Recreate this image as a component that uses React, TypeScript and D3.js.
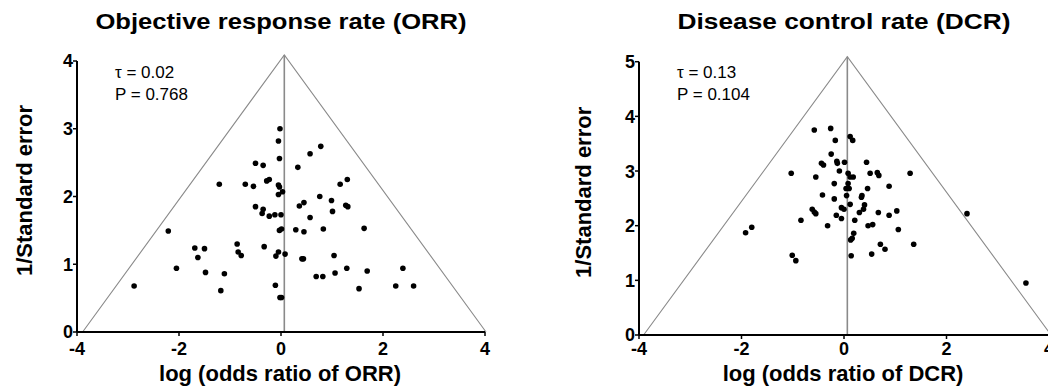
import { useEffect } from 'react';
import * as d3 from 'd3';

// ORR funnel: log odds ratio vs 1/SE
const orrLogOR = [
    -0.02, -0.05, -0.03, 0.78, 0.57, 0.33, -0.5, -0.35, -1.21, -0.7,
    -0.54, -0.28, -0.23, -0.05, -0.03, -0.05, 0.03, 1.3, 1.16, 0.76,
    0.99, 0.45, 0.36, 1.27, 1.31, 1.01, 0.57, -0.5, -0.35, -0.37,
    -0.23, -0.12, 0.0, 1.63, 0.83, 0.29, 0.45, -0.03, 0.01, -2.21,
    -0.86, -0.33, -1.69, -1.5, -0.84, -0.78, -1.63, -0.05, -0.1, 0.08,
    0.41, 0.44, 1.04, -2.05, -1.48, -1.11, 1.29, 1.69, 2.39, 1.06,
    0.69, 0.82, -2.88, -0.11, 2.25, 2.6, 1.53, -1.18, -0.02, 0.01,
];
const orrInvSE = [
    3.0, 2.82, 2.56, 2.74, 2.63, 2.43, 2.49, 2.46, 2.18, 2.18,
    2.15, 2.23, 2.25, 2.17, 2.14, 2.03, 2.07, 2.25, 2.18, 2.0,
    1.94, 1.91, 1.86, 1.87, 1.85, 1.78, 1.69, 1.85, 1.81, 1.75,
    1.71, 1.73, 1.73, 1.53, 1.52, 1.51, 1.48, 1.5, 1.52, 1.49,
    1.3, 1.26, 1.24, 1.23, 1.18, 1.13, 1.1, 1.18, 1.12, 1.15,
    1.08, 1.08, 1.13, 0.94, 0.88, 0.86, 0.94, 0.9, 0.94, 0.87,
    0.82, 0.82, 0.68, 0.69, 0.68, 0.68, 0.64, 0.61, 0.51, 0.51,
];

// DCR funnel
const dcrLogOR = [
    -0.58, -0.26, -0.17, 0.12, 0.17, -0.25, -0.44, -0.4, -0.14, -0.13,
    0.01, 0.44, -1.03, -0.55, -0.09, 0.08, 0.12, 0.18, 0.51, 0.65,
    0.68, 1.29, -0.19, 0.08, 0.04, 0.1, 0.46, 0.88, -0.42, 0.05,
    -0.19, 0.35, 0.34, 0.12, -0.05, 0.0, 0.4, 0.38, -0.62, -0.58,
    -0.55, 0.3, 0.67, 1.03, 0.88, -0.15, -0.05, -0.84, 0.21, -0.32,
    0.47, 0.56, 1.06, -1.8, -1.92, 0.19, 0.16, 0.13, 0.71, 0.8,
    1.36, -1.01, -0.94, 0.14, 0.54, 2.4, 3.55,
];
const dcrInvSE = [
    3.75, 3.78, 3.56, 3.63, 3.56, 3.31, 3.14, 3.11, 3.18, 3.14,
    3.16, 3.16, 2.96, 2.89, 3.0, 2.96, 2.89, 2.89, 2.96, 2.97,
    2.92, 2.96, 2.77, 2.77, 2.68, 2.68, 2.68, 2.72, 2.56, 2.55,
    2.49, 2.55, 2.52, 2.39, 2.33, 2.3, 2.38, 2.3, 2.3, 2.25,
    2.22, 2.24, 2.24, 2.27, 2.19, 2.19, 2.13, 2.1, 2.1, 2.0,
    2.0, 2.02, 1.93, 1.97, 1.87, 1.86, 1.77, 1.74, 1.66, 1.57,
    1.66, 1.46, 1.36, 1.45, 1.48, 2.22, 0.95,
];

const xTicks = [-4, -2, 0, 2, 4];
const orrYTicks = [0, 1, 2, 3, 4];
const dcrYTicks = [0, 1, 2, 3, 4, 5];

const FONT = '"Liberation Sans", Arial, Helvetica, sans-serif';

interface FunnelProps {
    title: string;
    xLabel: string;
    xs: number[];
    ys: number[];
    yTicks: number[];
    tau: string;
    pValue: string;
    center: number;
    apex: number;
    baseLeft: number;
    baseRight: number;
    left: number;
    right: number;
    top: number;
    bottom: number;
    yLabelX: number;
}

function Funnel(p: FunnelProps) {
    const yMax = p.yTicks[p.yTicks.length - 1];
    const x = d3.scaleLinear().domain([-4, 4]).range([p.left, p.right]);
    const y = d3.scaleLinear().domain([0, yMax]).range([p.bottom, p.top]);
    const midX = (p.left + p.right) / 2;

    const tri = d3.line<[number, number]>()
        .x(d => x(d[0]))
        .y(d => y(d[1]));
    const triPath = tri([
        [p.baseLeft, 0],
        [p.center, p.apex],
        [p.baseRight, 0],
    ]) as string;

    return (
        <g fontFamily={FONT}>
            <text x={midX} y={29} textAnchor="middle" fontSize={22} fontWeight="bold"
                textLength={p.title.length * 12.8} lengthAdjust="spacingAndGlyphs">
                {p.title}
            </text>

            {/* funnel lines */}
            <path d={triPath} fill="none" stroke="#8a8a8a" strokeWidth={1.1} />
            <line x1={x(p.center)} x2={x(p.center)} y1={y(0)} y2={y(p.apex)}
                stroke="#8a8a8a" strokeWidth={1.6} />

            {/* axes */}
            <line x1={x(-4)} x2={x(4)} y1={y(0)} y2={y(0)} stroke="#000" strokeWidth={2} />
            <line x1={x(-4)} x2={x(-4)} y1={y(0)} y2={y(yMax)} stroke="#000" strokeWidth={2} />
            {xTicks.map(t => (
                <g key={`x${t}`}>
                    <line x1={x(t)} x2={x(t)} y1={y(0)} y2={y(0) + 4} stroke="#000" strokeWidth={1.5} />
                    <text x={x(t)} y={355} textAnchor="middle" fontSize={18} fontWeight="bold">
                        {t < 0 ? `-${Math.abs(t)}` : t}
                    </text>
                </g>
            ))}
            {p.yTicks.map(t => (
                <g key={`y${t}`}>
                    <line x1={x(-4) - 4} x2={x(-4)} y1={y(t)} y2={y(t)} stroke="#000" strokeWidth={1.5} />
                    <text x={x(-4) - 4} y={y(t)} dy="0.36em" textAnchor="end" fontSize={18} fontWeight="bold">
                        {t}
                    </text>
                </g>
            ))}

            <text x={midX - 1} y={381} textAnchor="middle" fontSize={22} fontWeight="bold">
                {p.xLabel}
            </text>
            <text transform={`translate(${p.yLabelX},${(p.top + p.bottom) / 2 - 6}) rotate(-90)`}
                textAnchor="middle" fontSize={22} fontWeight="bold">
                1/Standard error
            </text>

            <text x={p.left + 38} y={78} fontSize={17}>{`\u03c4 = ${p.tau}`}</text>
            <text x={p.left + 38} y={100} fontSize={17}>{`P = ${p.pValue}`}</text>

            {p.xs.map((v, i) => (
                <circle key={i} cx={x(v)} cy={y(p.ys[i])} r={2.8} fill="#000" />
            ))}
        </g>
    );
}

export default function App() {
    useEffect(() => {
        document.body.style.margin = '0';
    }, []);

    return (
        <svg width={1048} height={392} style={{ display: 'block', background: '#fff' }}>
            <Funnel
                title="Objective response rate (ORR)"
                xLabel="log (odds ratio of ORR)"
                xs={orrLogOR}
                ys={orrInvSE}
                yTicks={orrYTicks}
                tau="0.02"
                pValue="0.768"
                center={0.065}
                apex={4.09}
                baseLeft={-3.89}
                baseRight={4.02}
                left={77}
                right={485}
                top={61}
                bottom={332}
                yLabelX={32}
            />
            <Funnel
                title="Disease control rate (DCR)"
                xLabel="log (odds ratio of DCR)"
                xs={dcrLogOR}
                ys={dcrInvSE}
                yTicks={dcrYTicks}
                tau="0.13"
                pValue="0.104"
                center={0.065}
                apex={5.09}
                baseLeft={-3.91}
                baseRight={4.04}
                left={639}
                right={1049}
                top={61.7}
                bottom={335}
                yLabelX={591}
            />
        </svg>
    );
}
